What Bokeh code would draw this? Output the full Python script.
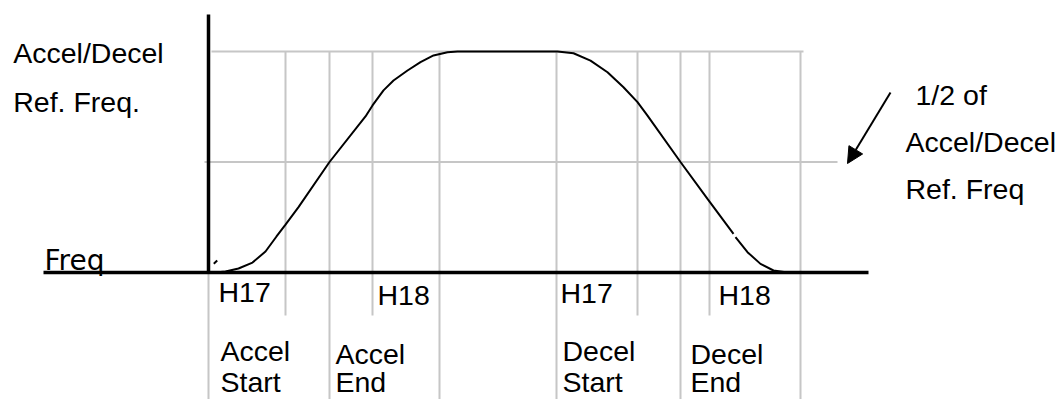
from bokeh.plotting import figure
from bokeh.models import Range1d, Arrow, NormalHead, Label
from bokeh.embed import file_html
from bokeh.resources import INLINE

nan = float("nan")

# ---------------- data (time in arbitrary units, frequency in % of Accel/Decel Ref. Freq.) ----
curve_t = [0.7, 1.7, 3.0, 4.4, 5.7, 6.8, 7.7, 9.0, 12.1, 15.7, 16.4, 17.5, 18.5, 19.9, 21.2,
           22.5, 23.9, 24.9, 34.9, 36.5, 38.2, 39.9, 41.5, 42.9, 43.9, 47.2, 49.9, 52.5,
           nan, 52.7, 53.9, 55.2, 56.5, 57.9, 59.2]
curve_f = [0.0, 0.45, 1.8, 4.5, 9.5, 16.3, 21.7, 29.6, 50.0, 70.6, 75.6, 82.4, 86.9, 91.4, 95.2,
           98.2, 99.7, 100.0, 100.0, 99.2, 95.9, 90.6, 83.8, 77.1, 71.0, 50.0, 33.3, 17.5,
           nan, 16.0, 9.2, 3.9, 0.9, 0.0, 0.0]

# event times (vertical guides)
guide_t = [0.0, 7.7, 12.1, 16.4, 23.1, 34.8, 42.9, 47.2, 50.1, 59.2]
guide_full = [True, False, True, False, True, True, False, True, False, True]

ref_freq = 100.0
half_freq = 50.0

seg_labels = ["H17", "H18", "H17", "H18"]
seg_label_t = [0.0, 16.4, 34.8, 50.1]
event_labels = [("Accel", "Start"), ("Accel", "End"), ("Decel", "Start"), ("Decel", "End")]
event_label_t = [0.0, 12.1, 34.8, 47.2]

# ---------------- layout helpers (pixel -> data) ----------------
OX, OY = 208.0, 272.0          # pixel of the origin
SX, SY = 10.0, 2.21            # pixels per data unit
def X(px):
    return (px - OX) / SX
def Y(py):
    return (OY - py) / SY

W, H = 1064, 399
p = figure(width=W, height=H, output_backend="svg", toolbar_location=None,
           x_range=Range1d(X(0), X(W)), y_range=Range1d(Y(H), Y(0)),
           x_axis_type=None, y_axis_type=None, min_border=0,
           outline_line_color=None, background_fill_color="white",
           border_fill_color="white")
p.xgrid.visible = False
p.ygrid.visible = False

GREY = "#c6c6c6"
FONT = "Liberation Sans"
FS = "28.5px"

# vertical guides
bottom = Y(420)
short_end = Y(315)
p.segment(x0=guide_t, y0=[ref_freq] * len(guide_t), x1=guide_t,
          y1=[bottom if f else short_end for f in guide_full],
          line_color=GREY, line_width=2)

# horizontal reference lines
p.segment(x0=[guide_t[0] + 0.3], y0=[ref_freq], x1=[guide_t[-1] + 0.3], y1=[ref_freq],
          line_color=GREY, line_width=2)
p.segment(x0=[guide_t[0] - 0.4], y0=[half_freq], x1=[X(837)], y1=[half_freq],
          line_color=GREY, line_width=2)

# profile curve
p.line(curve_t, curve_f, line_color="black", line_width=2)

# axes
p.segment(x0=[X(43)], y0=[0], x1=[X(868)], y1=[0], line_color="black", line_width=3.5)
p.segment(x0=[0], y0=[0], x1=[0], y1=[Y(14)], line_color="black", line_width=3.5)
# small stroke near the origin
p.segment(x0=[X(213.3)], y0=[Y(263.3)], x1=[X(216.7)], y1=[Y(260)], line_color="black", line_width=2)

# arrow
p.add_layout(Arrow(end=NormalHead(size=16, fill_color="black", line_color="black", line_width=1),
                   x_start=X(890), y_start=Y(92), x_end=X(847), y_end=Y(163),
                   line_color="black", line_width=2))

def lab(txt, x, y, xoff=0, font=FONT, size=FS):
    p.add_layout(Label(x=x, y=y, x_offset=xoff, text=txt, text_font=font,
                       text_font_size=size, text_color="black",
                       text_align="left", text_baseline="middle"))

# left texts (y = vertical centre of capitals)
lab("Accel/Decel", X(12.7), Y(52.5))
lab("Ref. Freq.", X(12.7), Y(101))
lab("Freq", X(44), Y(260), font="DejaVu Sans", size="28px")

# right texts
lab("1/2 of", X(915), Y(94.2))
lab("Accel/Decel", X(905), Y(141.7))
lab("Ref. Freq", X(905), Y(188.2))

# segment labels (H17 / H18)
seg_off = [10, 5, 4, 9]
seg_mid = [291.2, 294.2, 292, 294.2]
for txt, t, o, m in zip(seg_labels, seg_label_t, seg_off, seg_mid):
    lab(txt, t, Y(m), xoff=o)

# event labels
ev_off = [12, 6, 6, 10]
ev_mid1 = [350, 353, 350, 353]
ev_mid2 = [381, 381, 381, 381]
for (l1, l2), t, o, m1, m2 in zip(event_labels, event_label_t, ev_off, ev_mid1, ev_mid2):
    lab(l1, t, Y(m1), xoff=o)
    lab(l2, t, Y(m2), xoff=o)

open("out.html", "w").write(file_html(p, INLINE))
